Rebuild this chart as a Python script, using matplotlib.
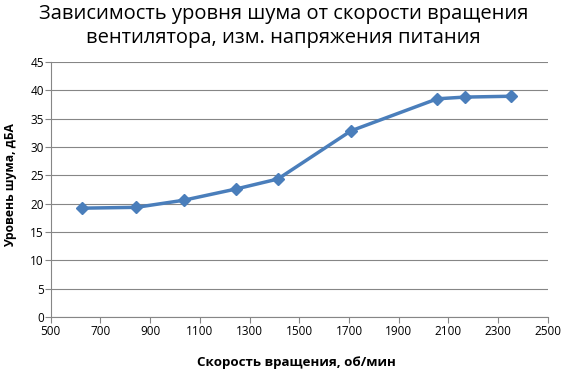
import matplotlib
matplotlib.use('Agg')
import matplotlib.pyplot as plt

# скорость вращения, об/мин и уровень шума, дБА
rpm = [625, 845, 1035, 1247, 1414, 1708, 2055, 2165, 2350]
noise = [19.2, 19.35, 20.6, 22.6, 24.35, 32.85, 38.5, 38.8, 38.95]

x_ticks = list(range(500, 2501, 200))
y_ticks = list(range(0, 46, 5))

plt.rcParams['font.family'] = ['Open Sans', 'DejaVu Sans']

fig = plt.figure(figsize=[5.62, 3.71], dpi=100)
ax = fig.add_axes([0.0902, 0.1456, 0.8848, 0.6874])

ax.plot(rpm, noise, color='#4a7ebb', linewidth=2.5, marker='D',
        markersize=6.5, markerfacecolor='#4a7ebb', markeredgecolor='#4a7ebb')

ax.set_xlim(500, 2500)
ax.set_ylim(0, 45)
ax.set_xticks(x_ticks)
ax.set_yticks(y_ticks)
ax.tick_params(axis='both', labelsize=8.5, colors='#868686', labelcolor='black',
               length=4, width=0.8, direction='out')
ax.tick_params(axis='x', pad=2)
ax.tick_params(axis='y', pad=1)

ax.grid(True, axis='y', color='#868686', linewidth=0.8)
ax.set_axisbelow(True)
for side in ['top', 'right']:
    ax.spines[side].set_visible(False)
for side in ['left', 'bottom']:
    ax.spines[side].set_color('#868686')
    ax.spines[side].set_linewidth(0.8)

fig.text(0.505, 0.99, 'Зависимость уровня шума от скорости вращения\nвентилятора, изм. напряжения питания',
         ha='center', va='top', fontsize=14.5, linespacing=1.3)
fig.text(0.018, 0.5, 'Уровень шума, дБА', rotation=90, ha='center', va='center',
         fontsize=8.7, fontweight='bold')
fig.text(0.528, 0.022, 'Скорость вращения, об/мин', ha='center', va='center',
         fontsize=9.6, fontweight='bold')

plt.savefig('out.png', dpi=100)
